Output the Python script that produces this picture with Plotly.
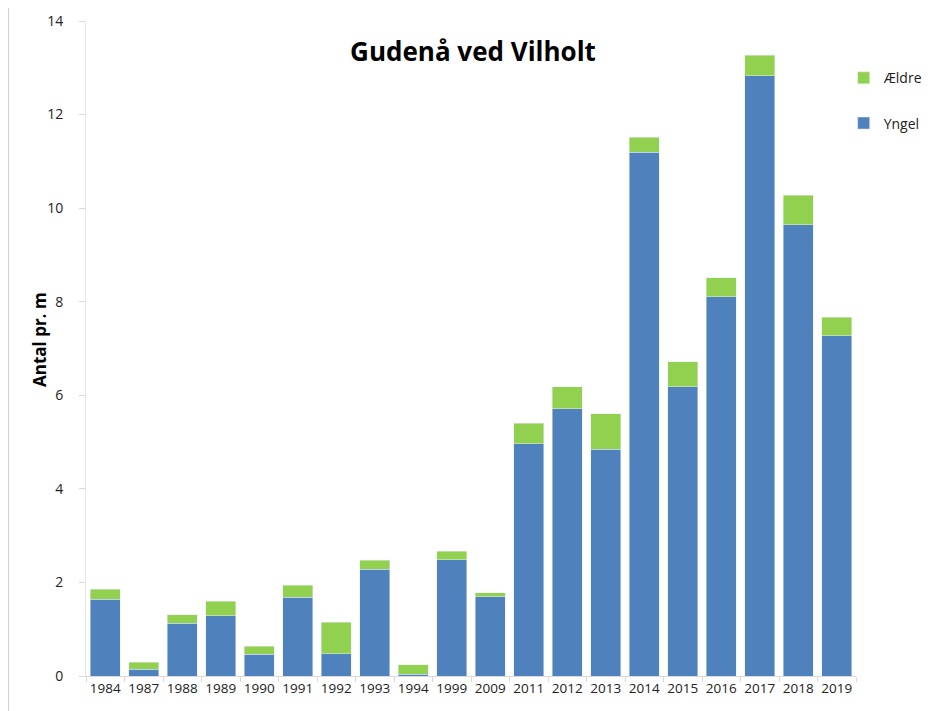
import plotly.graph_objects as go

# Data
years = ["1984", "1987", "1988", "1989", "1990", "1991", "1992", "1993", "1994", "1999",
         "2009", "2011", "2012", "2013", "2014", "2015", "2016", "2017", "2018", "2019"]
yngel = [1.64, 0.14, 1.13, 1.29, 0.46, 1.68, 0.48, 2.28, 0.04, 2.48,
         1.69, 4.96, 5.71, 4.85, 11.19, 6.18, 8.11, 12.83, 9.65, 7.27]
total = [1.85, 0.29, 1.31, 1.60, 0.64, 1.94, 1.15, 2.47, 0.24, 2.67,
         1.78, 5.40, 6.18, 5.61, 11.52, 6.72, 8.51, 13.27, 10.28, 7.67]
aeldre = [round(t - y, 2) for t, y in zip(total, yngel)]

font_main = "Open Sans, Liberation Sans, sans-serif"

fig = go.Figure()
fig.add_trace(go.Bar(x=years, y=yngel, name="Yngel", marker_color="#4F81BD",
                     legendgroup="b", legendrank=2))
fig.add_trace(go.Bar(x=years, y=aeldre, name="Ældre", marker_color="#92D050",
                     legendgroup="a", legendrank=1))

# page has an 8px body margin, so the figure is a bit smaller than the window
fig.update_layout(
    barmode="stack",
    bargap=0.21,
    width=930, height=703,
    margin=dict(l=78, r=82, t=13, b=35, autoexpand=False),
    paper_bgcolor="white", plot_bgcolor="white",
    font=dict(family=font_main, size=13, color="#222"),
    title=dict(text="<b>Gudenå ved Vilholt</b>", x=0.5, xanchor="center",
               y=0.937, yanchor="middle",
               font=dict(family=font_main, size=26, color="black")),
    legend=dict(x=0.984, y=0.937, xanchor="left", yanchor="top",
                traceorder="grouped", tracegroupgap=24,
                font=dict(size=14, color="#222"), itemwidth=30),
    showlegend=True,
)
fig.update_xaxes(type="category", showline=True, linecolor="#d9d9d9", linewidth=1,
                 ticks="outside", tickson="boundaries", ticklen=5, tickcolor="#d9d9d9",
                 tickangle=0, automargin=False,
                 tickfont=dict(size=13.5, color="#222"), showgrid=False)
fig.update_yaxes(range=[0, 14], dtick=2, showline=True, linecolor="#e6e6e6", linewidth=1,
                 ticks="outside", ticklen=6, tickcolor="#d9d9d9", showgrid=False,
                 zeroline=False, automargin=False, ticklabelstandoff=13,
                 tickfont=dict(size=14, color="#222"))

# y axis title placed as annotation to match original position
fig.add_annotation(text="<b>Antal pr. m</b>", textangle=-90, showarrow=False,
                   xref="paper", yref="paper", x=-0.0597, y=0.513,
                   xanchor="center", yanchor="middle",
                   font=dict(size=17, color="black"))

# light left edge of the original image frame
fig.add_shape(type="line", xref="paper", yref="paper", x0=-0.1007, x1=-0.1007,
              y0=-0.06, y1=1.03, line=dict(color="#d0d0d0", width=1))

fig.write_html("out.html")
